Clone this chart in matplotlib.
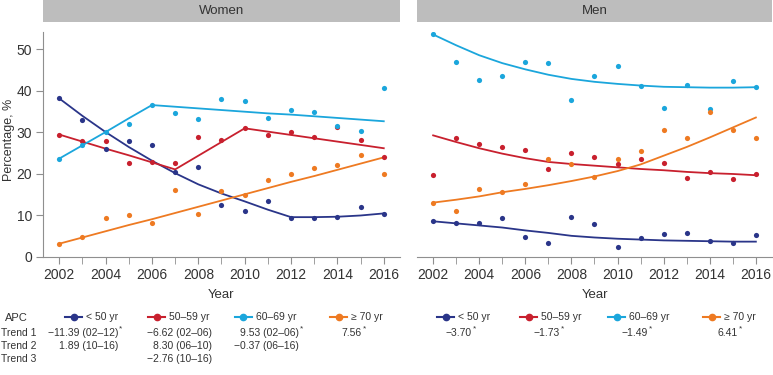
import matplotlib
matplotlib.use("Agg")
import matplotlib.pyplot as plt
from matplotlib.lines import Line2D

plt.rcParams['font.family'] = ['Liberation Sans', 'DejaVu Sans']

years = list(range(2002, 2017))
groups = ['< 50 yr', '50\u201359 yr', '60\u201369 yr', '\u2265 70 yr']
colors = ['#2a3589', '#c8202e', '#1ba6dc', '#ee7a22']

# observed percentages
women_lt50 = [38.2, 33.1, 26.1, 27.9, 27.1, 20.5, 21.7, 12.5, 11.2, 13.4, 9.5, 9.5, 9.7, 12.0, 10.4]
women_50s = [29.5, 27.9, 27.9, 22.6, 23.0, 22.7, 29.0, 28.3, 31.0, 29.5, 30.1, 28.9, 31.3, 28.1, 24.0]
women_60s = [23.7, 26.9, 30.1, 32.1, 36.7, 34.7, 33.2, 38.1, 37.6, 33.5, 35.3, 35.0, 31.6, 30.3, 40.7]
women_70p = [3.2, 4.8, 9.3, 10.2, 8.1, 16.1, 10.3, 15.8, 15.0, 18.5, 19.9, 21.4, 22.2, 24.6, 19.9]

men_lt50 = [8.7, 8.2, 8.3, 9.4, 4.8, 3.4, 9.6, 8.0, 2.5, 4.6, 5.5, 5.7, 3.8, 3.3, 5.3]
men_50s = [19.7, 28.6, 27.2, 26.5, 25.7, 21.2, 25.0, 24.0, 22.5, 23.5, 22.7, 19.1, 20.4, 18.7, 20.0]
men_60s = [53.6, 46.9, 42.7, 43.5, 47.0, 46.8, 37.8, 43.7, 46.0, 41.2, 35.9, 41.5, 35.7, 42.4, 41.0]
men_70p = [13.1, 11.2, 16.5, 15.6, 17.6, 23.6, 22.5, 19.3, 23.7, 25.6, 30.7, 28.7, 35.0, 30.5, 28.7]

# fitted (joinpoint) trend lines
women_lt50_fit = [38.2, 34.0, 30.1, 26.5, 23.2, 20.2, 17.5, 15.3, 13.4, 11.4, 9.6, 9.6, 9.7, 10.0, 10.5]
women_50s_fit = [29.5, 27.8, 26.1, 24.5, 22.8, 21.1, 24.4, 27.7, 31.0, 30.2, 29.4, 28.6, 27.8, 27.0, 26.2]
women_60s_fit = [23.7, 26.9, 30.1, 33.4, 36.6, 36.2, 35.8, 35.4, 35.0, 34.6, 34.3, 33.9, 33.5, 33.1, 32.7]
women_70p_fit = [3.2, 4.7, 6.2, 7.7, 9.1, 10.6, 12.1, 13.6, 15.1, 16.6, 18.1, 19.5, 21.0, 22.5, 24.0]

men_lt50_fit = [8.6, 8.1, 7.6, 7.1, 6.4, 5.8, 5.1, 4.7, 4.4, 4.2, 4.0, 3.9, 3.8, 3.7, 3.7]
men_50s_fit = [29.3, 27.7, 26.2, 24.9, 23.8, 22.9, 22.4, 22.0, 21.6, 21.2, 20.9, 20.5, 20.2, 20.0, 19.7]
men_60s_fit = [53.6, 51.0, 48.6, 46.7, 45.2, 43.9, 42.9, 42.2, 41.7, 41.3, 41.0, 40.9, 40.8, 40.8, 40.9]
men_70p_fit = [13.1, 13.8, 14.6, 15.6, 16.4, 17.3, 18.3, 19.4, 20.7, 22.3, 24.4, 26.5, 28.8, 31.2, 33.6]

women_obs = [women_lt50, women_50s, women_60s, women_70p]
women_fit = [women_lt50_fit, women_50s_fit, women_60s_fit, women_70p_fit]
men_obs = [men_lt50, men_50s, men_60s, men_70p]
men_fit = [men_lt50_fit, men_50s_fit, men_60s_fit, men_70p_fit]

# APC table text: (text, significant)
women_apc = [
    [('\u221211.39 (02\u201312)', True), ('\u22126.62 (02\u201306)', False), ('9.53 (02\u201306)', True), ('7.56', True)],
    [('1.89 (10\u201316)', False), ('8.30 (06\u201310)', False), ('\u22120.37 (06\u201316)', False), None],
    [None, ('\u22122.76 (10\u201316)', False), None, None],
]
men_apc = [[('\u22123.70', True), ('\u22121.73', True), ('\u22121.49', True), ('6.41', True)]]
row_labels = ['Trend 1', 'Trend 2', 'Trend 3']

W, H = 773, 375
fig = plt.figure(figsize=(W / 100, H / 100), dpi=100)


def fx(px):
    return px / W


def fy(py):
    return 1 - py / H


spine_c = '#8f8f8f'
text_c = '#333333'

panels = [('Women', 43, 400, women_obs, women_fit), ('Men', 417, 772, men_obs, men_fit)]
axes = []
for name, x0, x1, obs, fit in panels:
    ax = fig.add_axes([fx(x0), fy(257), fx(x1 - x0), fy(32) - fy(257)])
    for c, o, f in zip(colors, obs, fit):
        ax.plot(years, f, color=c, lw=1.3, zorder=2)
        ax.scatter(years, o, s=14, color=c, zorder=3, linewidths=0)
    ax.set_xlim(2001.3, 2016.7)
    ax.set_ylim(0, 54.2)
    ax.set_xticks(range(2002, 2017, 2))
    ax.set_xticks(range(2003, 2017, 2), minor=True)
    ax.tick_params(axis='x', which='both', length=5, color=spine_c, labelsize=10,
                   labelcolor=text_c, pad=3)
    ax.set_yticks(range(0, 51, 10))
    ax.tick_params(axis='y', length=5, color=spine_c, labelsize=10, labelcolor=text_c, pad=3)
    for s in ['top', 'right']:
        ax.spines[s].set_visible(False)
    for s in ['left', 'bottom']:
        ax.spines[s].set_color(spine_c)
    ax.set_xlabel('Year', fontsize=9.5, color=text_c, labelpad=5)
    # strip header
    hx = fig.add_axes([fx(x0), fy(22), fx(x1 - x0), fy(0) - fy(22)])
    hx.set_facecolor('#bdbdbd')
    hx.set_xticks([])
    hx.set_yticks([])
    for s in hx.spines.values():
        s.set_visible(False)
    hx.text(0.5, 0.5, name, ha='center', va='center', fontsize=9.5, color=text_c,
            transform=hx.transAxes)
    axes.append(ax)

axes[0].set_ylabel('Percentage, %', fontsize=9, color=text_c)
axes[0].yaxis.set_label_coords(-0.078, 0.52)
axes[1].spines['left'].set_visible(False)
axes[1].tick_params(axis='y', left=False, labelleft=False)

# bottom APC table
tfs = 7.5
fig.text(fx(5), fy(318), 'APC', fontsize=8, color=text_c, va='center', ha='left')
for i, lab in enumerate(row_labels):
    fig.text(fx(1), fy(333 + 13 * i), lab, fontsize=tfs, color=text_c, va='center', ha='left')

women_leg_x = [65, 148, 235, 330]
men_leg_x = [437, 520, 608, 703]
women_col_x = [118, 212, 299, 362]
men_col_x = [472, 560, 648, 738]

for leg_x in (women_leg_x, men_leg_x):
    for c, g, lx in zip(colors, groups, leg_x):
        fig.add_artist(Line2D([fx(lx), fx(lx + 8.5), fx(lx + 17)], [fy(317)] * 3,
                              transform=fig.transFigure, color=c, lw=1.5,
                              marker='o', markersize=4.5, markevery=[1]))
        fig.text(fx(lx + 21), fy(317), g, fontsize=tfs, color=text_c, va='center', ha='left')

for table, col_x in ((women_apc, women_col_x), (men_apc, men_col_x)):
    for r, row in enumerate(table):
        for cell, cx in zip(row, col_x):
            if cell is None:
                continue
            txt, sig = cell
            yy = fy(333 + 13 * r)
            fig.text(fx(cx), yy, txt, fontsize=tfs, color=text_c, va='center', ha='right')
            if sig:
                fig.text(fx(cx + 0.5), yy + 0.01, '*', fontsize=6, color=text_c,
                         va='center', ha='left')

fig.savefig('out.png', dpi=100)
